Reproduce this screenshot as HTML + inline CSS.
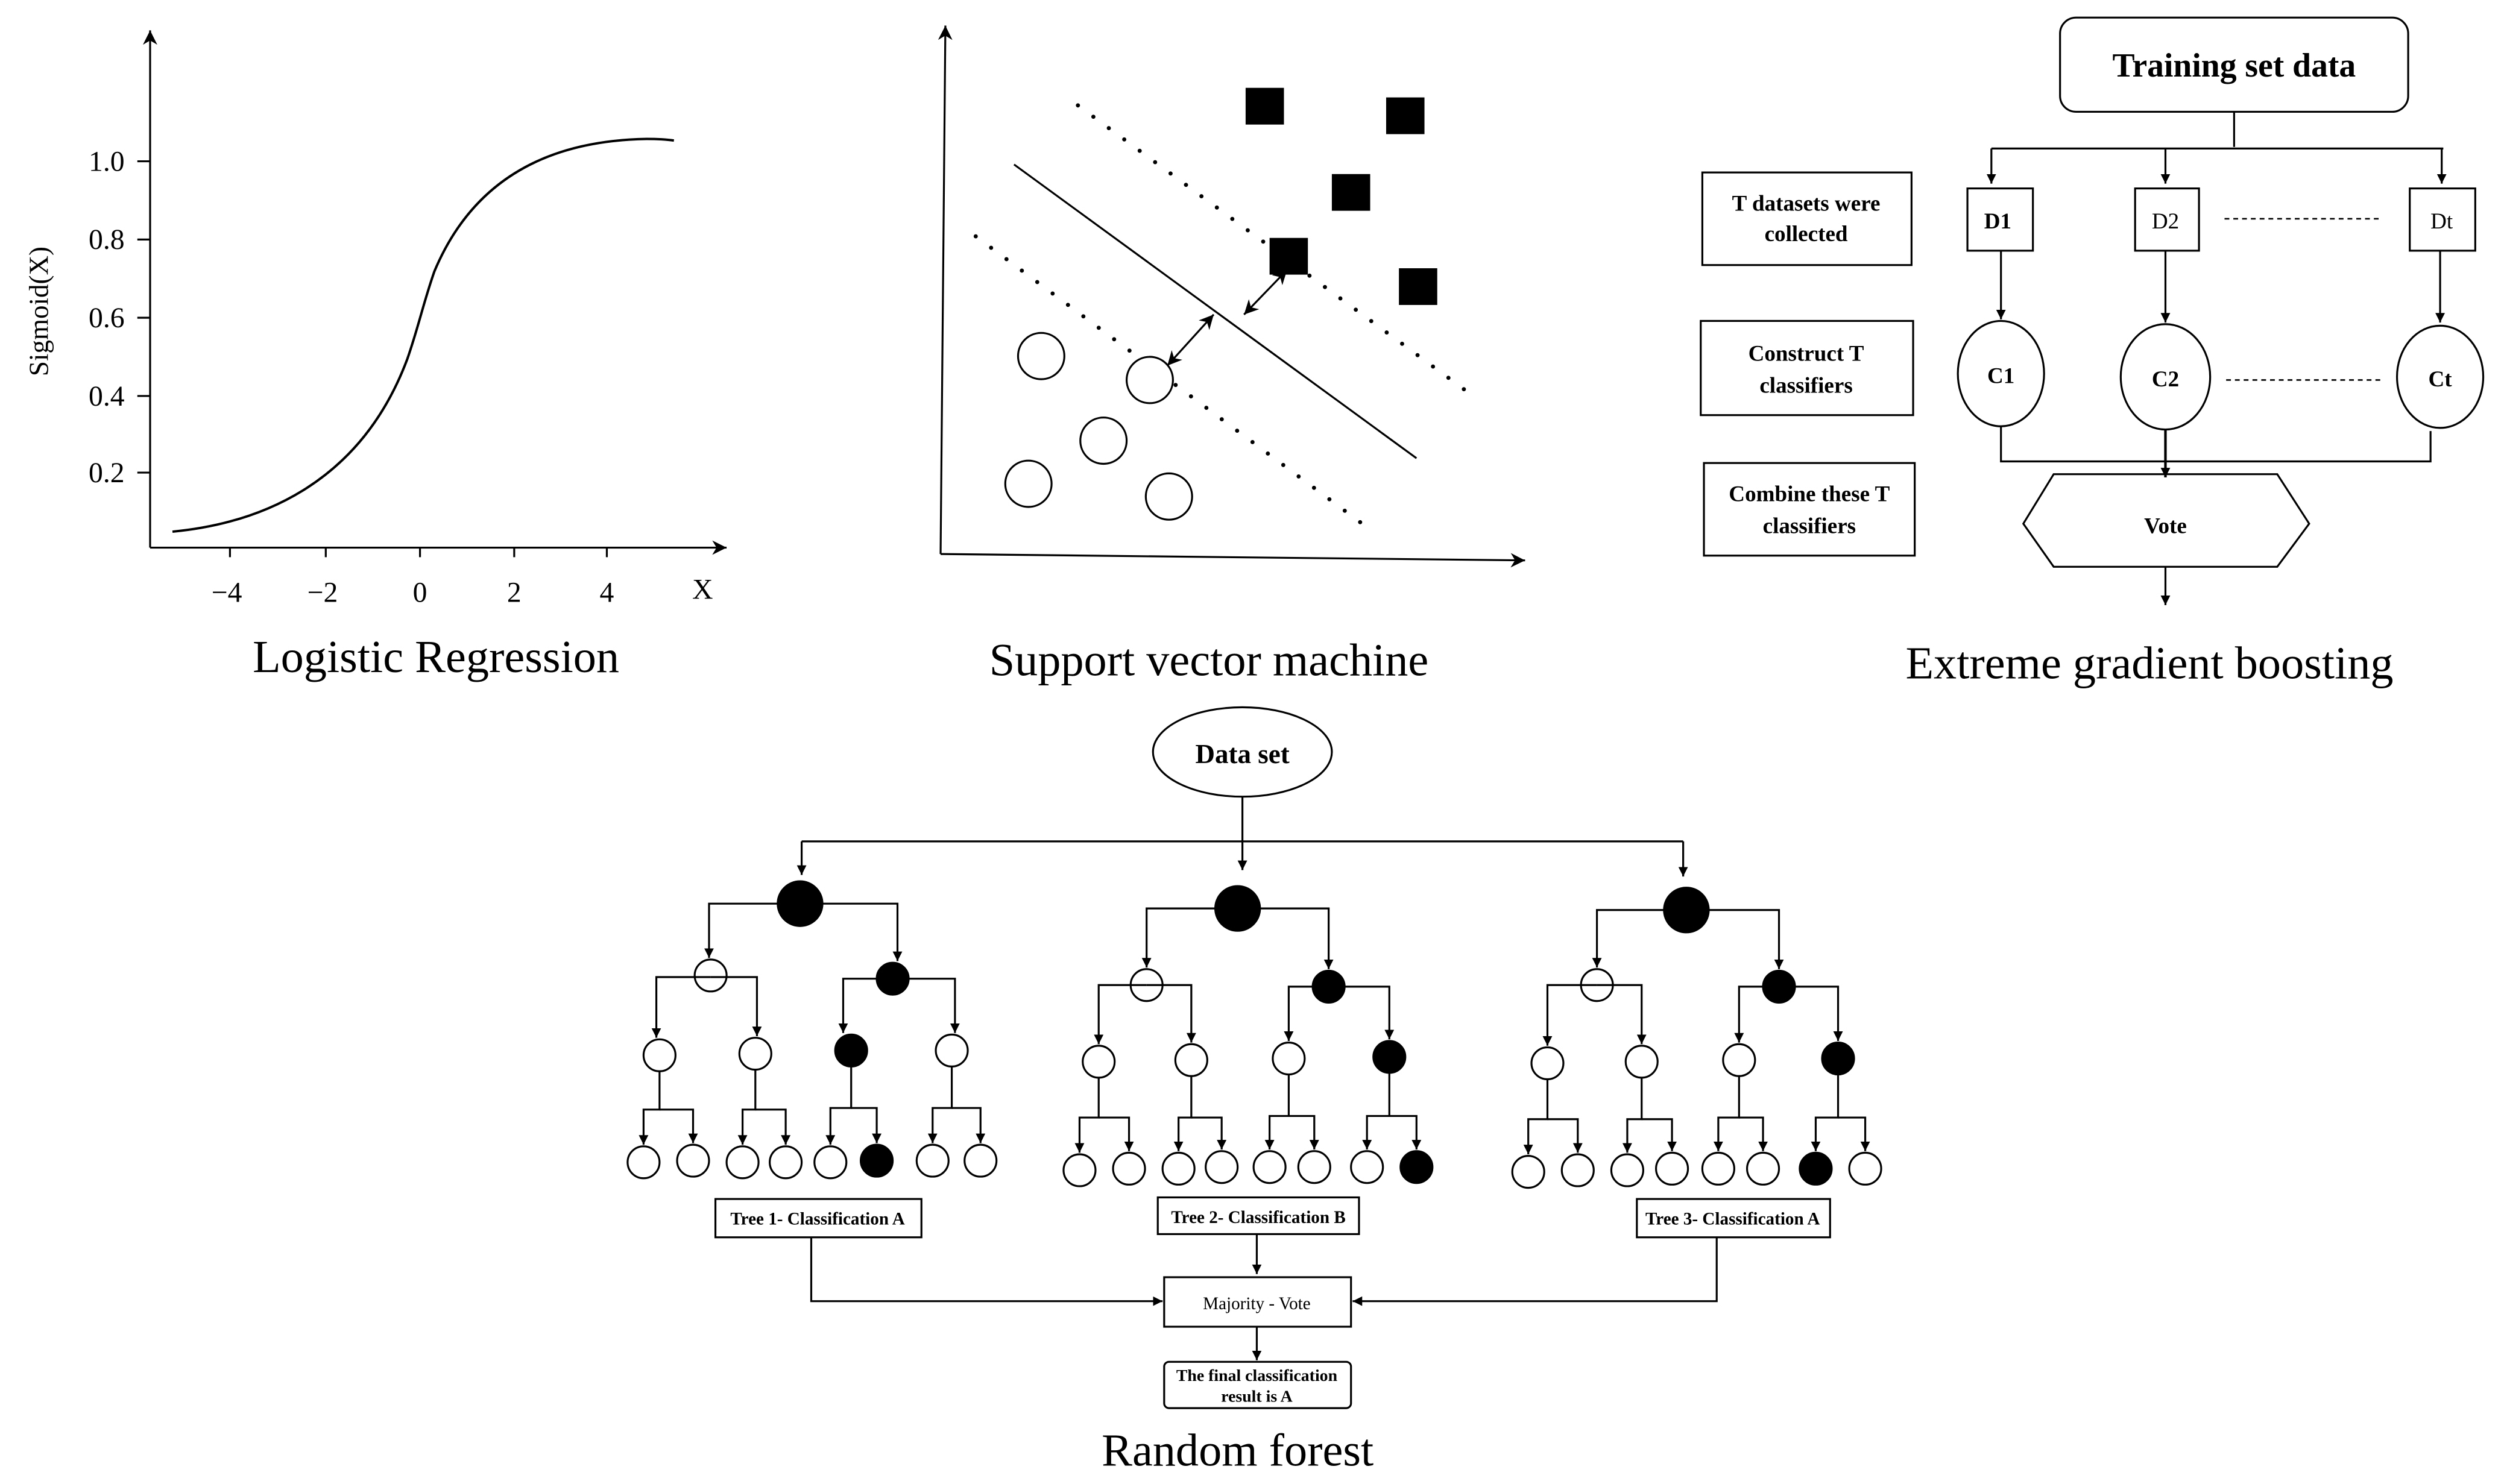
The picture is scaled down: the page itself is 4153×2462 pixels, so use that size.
<!DOCTYPE html>
<html><head><meta charset="utf-8"><style>
html,body{margin:0;padding:0;background:#fff;}
svg{display:block;}
text{font-family:"Liberation Serif",serif;fill:#000;}
.b{font-weight:bold;}
</style></head><body>
<svg xmlns="http://www.w3.org/2000/svg" width="4153" height="2462" viewBox="0 0 1568 929.5">
<defs>
<marker id="a" viewBox="0 0 10 10" refX="10" refY="5" markerWidth="9" markerHeight="9" markerUnits="userSpaceOnUse" orient="auto-start-reverse"><path d="M0,0 L10,5 L0,10 L3,5 z" fill="#000"/></marker>
<marker id="s" viewBox="0 0 10 10" refX="10" refY="5" markerWidth="6" markerHeight="6" markerUnits="userSpaceOnUse" orient="auto-start-reverse"><path d="M0,0 L10,5 L0,10 z" fill="#000"/></marker>
</defs>
<g fill="none" stroke="#000" stroke-width="1.2">
<!-- Logistic regression -->
<path d="M94,343 V19" marker-end="url(#a)"/>
<path d="M94,343 H455" marker-end="url(#a)"/>
<path d="M144,343 v6 M204,343 v6 M263,343 v6 M322,343 v6 M380,343 v6"/>
<path d="M86,101 h8 M86,150 h8 M86,199 h8 M86,248 h8 M86,296 h8"/>
<path d="M108,333 C160,328 225,305 255,225 C262,205 265,190 272,170 C295,115 340,88 405,87 Q415,87 422,88" stroke-width="1.5"/>
<!-- SVM -->
<path d="M589,347 L592,16" marker-end="url(#a)"/>
<path d="M589,347 L955,351" marker-end="url(#a)"/>
<path d="M635,103 L887,287"/>
<path d="M675,66 L917,244 M611,148 L853,328" stroke-width="2.6" stroke-dasharray="0 12" stroke-linecap="round"/>
<circle cx="652" cy="223" r="14.5" fill="#fff"/><circle cx="720" cy="238" r="14.5" fill="#fff"/><circle cx="691" cy="276" r="14.5"/><circle cx="644" cy="303" r="14.5"/><circle cx="732" cy="311" r="14.5"/>
<path d="M731,229 L760,197" marker-start="url(#a)" marker-end="url(#a)"/>
<path d="M779,197 L806,169" marker-start="url(#a)" marker-end="url(#a)"/>
<!-- XGB -->
<rect x="1290" y="11" width="218" height="59" rx="10"/>
<path d="M1399,70 V92 M1247,93 H1530"/>
<path d="M1247,93 V115" marker-end="url(#s)"/>
<path d="M1356,93 V115" marker-end="url(#s)"/>
<path d="M1529,93 V115" marker-end="url(#s)"/>
<rect x="1232" y="118" width="41" height="39"/><rect x="1337" y="118" width="40" height="39"/><rect x="1509" y="118" width="41" height="39"/>
<path d="M1393,137 H1490 M1394,238 H1492" stroke-dasharray="3 2.5" stroke-width="1"/>
<path d="M1253,157 V200" marker-end="url(#s)"/>
<path d="M1356,157 V202" marker-end="url(#s)"/>
<path d="M1528,157 V202" marker-end="url(#s)"/>
<ellipse cx="1253" cy="234" rx="27" ry="33"/><ellipse cx="1356" cy="236" rx="28" ry="33"/><ellipse cx="1528" cy="236" rx="27" ry="32"/>
<path d="M1253,267 V289 H1522 V270"/>
<path d="M1356,269 V299" marker-end="url(#s)" stroke-width="1.6"/>
<path d="M1267,328 L1286,297 H1426 L1446,328 L1426,355 H1286 Z"/>
<path d="M1356,355 V379" marker-end="url(#s)"/>
<rect x="1066" y="108" width="131" height="58"/><rect x="1065" y="201" width="133" height="59"/><rect x="1067" y="290" width="132" height="58"/>
<!-- Random forest -->
<ellipse cx="778" cy="471" rx="56" ry="28"/>
<path d="M778,499 V545" marker-end="url(#s)"/>
<path d="M502,527 H1054"/>
<path d="M502,527 V548" marker-end="url(#s)"/>
<path d="M1054,527 V549" marker-end="url(#s)"/>
<g marker-end="url(#s)">
<path d="M501,566 H444 V600"/><path d="M501,566 H562 V602"/>
<path d="M445,612 H411 V650"/><path d="M445,612 H474 V649"/>
<path d="M559,613 H528 V647"/><path d="M559,613 H598 V647"/>
<path d="M413,671 V695 H403 V717"/><path d="M413,695 H434 V716"/>
<path d="M473,670 V695 H465 V717"/><path d="M473,695 H492 V717"/>
<path d="M533,668 V694 H520 V717"/><path d="M533,694 H549 V716"/>
<path d="M596,668 V694 H584 V716"/><path d="M596,694 H614 V716"/>
<path d="M775,569 H718 V606"/><path d="M775,569 H832 V607"/>
<path d="M718,617 H688 V654"/><path d="M718,617 H746 V653"/>
<path d="M832,618 H807 V652"/><path d="M832,618 H870 V651"/>
<path d="M688,675 V700 H676 V722"/><path d="M688,700 H707 V721"/>
<path d="M746,674 V700 H738 V721"/><path d="M746,700 H765 V720"/>
<path d="M807,673 V699 H795 V720"/><path d="M807,699 H823 V720"/>
<path d="M870,672 V699 H856 V720"/><path d="M870,699 H887 V720"/>
<path d="M1056,570 H1000 V606"/><path d="M1056,570 H1114 V607"/>
<path d="M1000,617 H969 V655"/><path d="M1000,617 H1028 V654"/>
<path d="M1114,618 H1089 V653"/><path d="M1114,618 H1151 V652"/>
<path d="M969,676 V701 H957 V723"/><path d="M969,701 H988 V722"/>
<path d="M1028,675 V701 H1019 V722"/><path d="M1028,701 H1047 V721"/>
<path d="M1089,674 V700 H1076 V721"/><path d="M1089,700 H1104 V721"/>
<path d="M1151,673 V700 H1137 V721"/><path d="M1151,700 H1168 V721"/>
<path d="M787,773 V798"/>
<path d="M508,775 V815 H728"/>
<path d="M1075,775 V815 H847"/>
<path d="M787,831 V852"/>
</g>
<g fill="#000">
<circle cx="501" cy="566" r="14"/><circle cx="775" cy="569" r="14"/><circle cx="1056" cy="570" r="14"/>
<circle cx="559" cy="613" r="10"/><circle cx="832" cy="618" r="10"/><circle cx="1114" cy="618" r="10"/>
<circle cx="533" cy="658" r="10"/><circle cx="870" cy="662" r="10"/><circle cx="1151" cy="663" r="10"/>
<circle cx="549" cy="727" r="10"/><circle cx="887" cy="731" r="10"/><circle cx="1137" cy="732" r="10"/>
</g>
<g>
<circle cx="445" cy="611" r="10"/><circle cx="718" cy="617" r="10"/><circle cx="1000" cy="617" r="10"/>
<circle cx="413" cy="661" r="10"/><circle cx="473" cy="660" r="10"/><circle cx="596" cy="658" r="10"/>
<circle cx="688" cy="665" r="10"/><circle cx="746" cy="664" r="10"/><circle cx="807" cy="663" r="10"/>
<circle cx="969" cy="666" r="10"/><circle cx="1028" cy="665" r="10"/><circle cx="1089" cy="664" r="10"/>
<circle cx="403" cy="728" r="10"/><circle cx="434" cy="727" r="10"/><circle cx="465" cy="728" r="10"/><circle cx="492" cy="728" r="10"/><circle cx="520" cy="728" r="10"/><circle cx="584" cy="727" r="10"/><circle cx="614" cy="727" r="10"/>
<circle cx="676" cy="733" r="10"/><circle cx="707" cy="732" r="10"/><circle cx="738" cy="732" r="10"/><circle cx="765" cy="731" r="10"/><circle cx="795" cy="731" r="10"/><circle cx="823" cy="731" r="10"/><circle cx="856" cy="731" r="10"/>
<circle cx="957" cy="734" r="10"/><circle cx="988" cy="733" r="10"/><circle cx="1019" cy="733" r="10"/><circle cx="1047" cy="732" r="10"/><circle cx="1076" cy="732" r="10"/><circle cx="1104" cy="732" r="10"/><circle cx="1168" cy="732" r="10"/>
</g>
<rect x="448" y="751" width="129" height="24"/><rect x="725" y="750" width="126" height="23"/><rect x="1025" y="751" width="121" height="24"/>
<rect x="729" y="800" width="117" height="31"/>
<rect x="729" y="853" width="117" height="29" rx="3"/>
</g>
<g fill="#000">
<rect x="780" y="55" width="24" height="23"/><rect x="868" y="61" width="24" height="23"/><rect x="834" y="109" width="24" height="23"/><rect x="795" y="149" width="24" height="23"/><rect x="876" y="168" width="24" height="23"/>
</g>
<g font-size="18" text-anchor="end">
<text x="78" y="107">1.0</text><text x="78" y="156">0.8</text><text x="78" y="205">0.6</text><text x="78" y="254">0.4</text><text x="78" y="302">0.2</text>
</g>
<g font-size="18" text-anchor="middle">
<text x="142" y="377">−4</text><text x="202" y="377">−2</text><text x="263" y="377">0</text><text x="322" y="377">2</text><text x="380" y="377">4</text>
<text x="440" y="375">X</text>
</g>
<text font-size="17" text-anchor="middle" transform="translate(30,195) rotate(-90)">Sigmoid(X)</text>
<g font-size="28.8" text-anchor="middle">
<text x="273" y="421">Logistic Regression</text>
<text x="757" y="423">Support vector machine</text>
<text x="1346" y="425">Extreme gradient boosting</text>
<text x="775" y="918">Random forest</text>
</g>
<text class="b" x="1399" y="48" font-size="21" text-anchor="middle">Training set data</text>
<g class="b" font-size="14" text-anchor="middle">
<text x="1251" y="143">D1</text><text x="1356" y="143" font-weight="normal">D2</text><text x="1529" y="143" font-weight="normal">Dt</text>
<text x="1253" y="240">C1</text><text x="1356" y="242">C2</text><text x="1528" y="242">Ct</text>
<text x="1356" y="334">Vote</text>
<text x="1131" y="132">T datasets were</text><text x="1131" y="151">collected</text>
<text x="1131" y="226">Construct T</text><text x="1131" y="246">classifiers</text>
<text x="1133" y="314">Combine these T</text><text x="1133" y="334">classifiers</text>
</g>
<text class="b" x="778" y="478" font-size="17" text-anchor="middle">Data set</text>
<g class="b" font-size="11" text-anchor="middle">
<text x="512" y="767">Tree 1- Classification A</text>
<text x="788" y="766">Tree 2- Classification B</text>
<text x="1085" y="767">Tree 3- Classification A</text>
</g>
<g font-size="11" text-anchor="middle">
<text x="787" y="820">Majority - Vote</text>
<text class="b" x="787" y="865" font-size="10.5">The final classification</text>
<text class="b" x="787" y="878" font-size="10.5">result is A</text>
</g>
</svg>
</body></html>
